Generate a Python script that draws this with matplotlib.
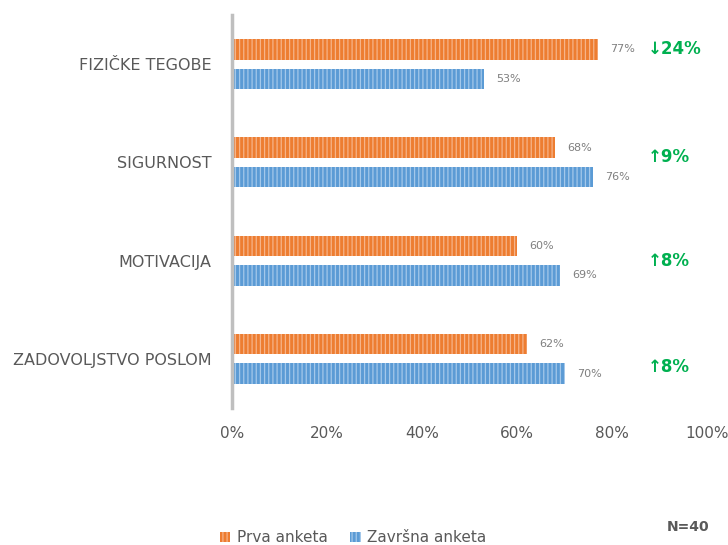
import numpy as np
import matplotlib.pyplot as plt
from matplotlib.patches import Patch

# data
categories = ['FIZIČKE TEGOBE', 'SIGURNOST', 'MOTIVACIJA', 'ZADOVOLJSTVO POSLOM']
prva = [77, 68, 60, 62]
zavrsna = [53, 76, 69, 70]
changes = ['↓24%', '↑9%', '↑8%', '↑8%']
change_y = [-0.15, -0.05, 0.0, 0.08]  # vertical offset of change labels

orange, orange_hatch = '#ed7d31', '#f6b48a'
blue, blue_hatch = '#5b9bd5', '#a4c8ea'
gray_txt = '#595959'

plt.rcParams['hatch.linewidth'] = 0.9
fig = plt.figure(figsize=(7.28, 5.45), dpi=100)
ax = fig.add_axes([0.3187, 0.2514, 0.6525, 0.7211])

y = np.arange(len(categories))
h = 0.21
ax.barh(y - 0.15, prva, height=h, color=orange, edgecolor=orange_hatch,
        hatch='||||', linewidth=0)
ax.barh(y + 0.15, zavrsna, height=h, color=blue, edgecolor=blue_hatch,
        hatch='||||', linewidth=0)

for i in range(len(categories)):
    ax.annotate(f'{prva[i]}%', (prva[i], y[i] - 0.15), xytext=(9, 0),
                textcoords='offset points', va='center', ha='left',
                fontsize=8, color='#7f7f7f')
    ax.annotate(f'{zavrsna[i]}%', (zavrsna[i], y[i] + 0.15), xytext=(9, 0),
                textcoords='offset points', va='center', ha='left',
                fontsize=8, color='#7f7f7f')
    ax.text(87.5, y[i] + change_y[i], changes[i], va='center', ha='left',
            fontsize=12, fontweight='bold', color='#00b050')

ax.set_ylim(3.5, -0.5)
ax.set_xlim(0, 100)
ax.set_yticks(y)
ax.set_yticklabels(categories, fontsize=11.5, color=gray_txt)
ax.set_xticks(np.arange(0, 101, 20))
ax.set_xticklabels([f'{v}%' for v in range(0, 101, 20)], fontsize=11,
                   color=gray_txt)
ax.tick_params(axis='both', length=0)
ax.tick_params(axis='x', pad=13)
ax.tick_params(axis='y', pad=15)
for s in ['top', 'right', 'bottom']:
    ax.spines[s].set_visible(False)
ax.spines['left'].set_color('#bfbfbf')
ax.spines['left'].set_linewidth(2.5)

handles = [Patch(facecolor=orange, edgecolor=orange_hatch, hatch='||||', linewidth=0),
           Patch(facecolor=blue, edgecolor=blue_hatch, hatch='||||', linewidth=0)]
fig.legend(handles, ['Prva anketa', 'Završna anketa'], loc='center',
           bbox_to_anchor=(0.485, 0.013), ncol=2, frameon=False, fontsize=11,
           labelcolor=gray_txt, handlelength=0.7, handleheight=0.7,
           handletextpad=0.4, columnspacing=1.5)
fig.text(0.975, 0.033, 'N=40', ha='right', va='center', fontsize=10,
         fontweight='bold', color=gray_txt)

fig.savefig('out.png', dpi=100)
